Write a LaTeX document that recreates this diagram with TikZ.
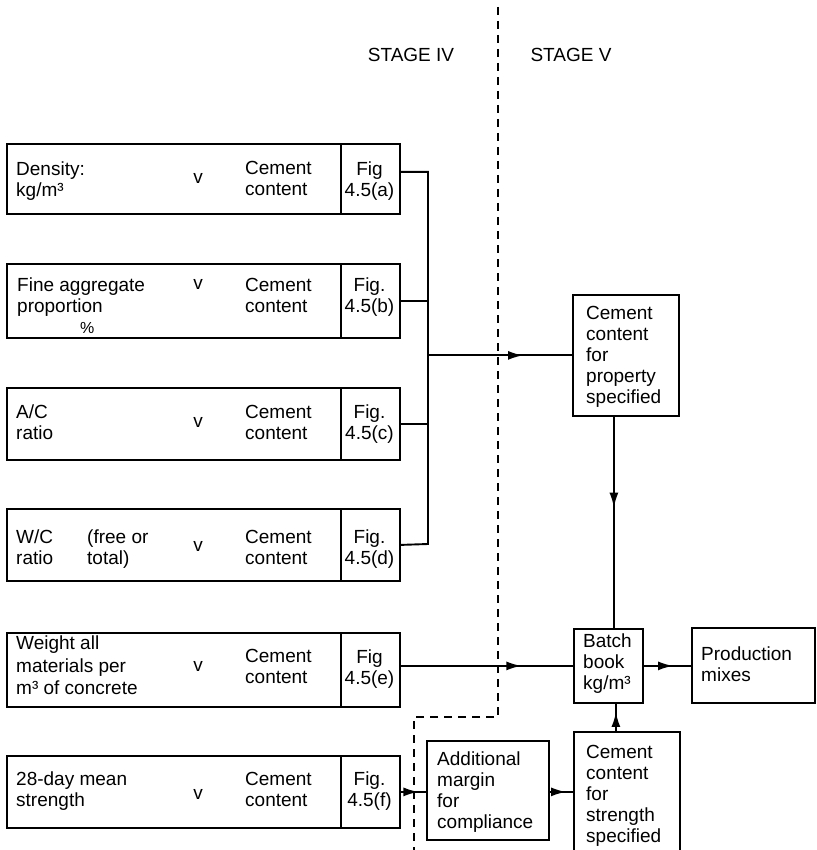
\documentclass[tikz,border=0pt]{standalone}
\usepackage{fontspec}
\setmainfont{Liberation Sans}
\usetikzlibrary{arrows.meta,decorations.markings}
\tikzset{
  box/.style={draw, line width=1.8pt, inner sep=0pt, anchor=north west},
  txt/.style={inner sep=0pt, anchor=north west, align=left, font=\fontsize{19}{21}\selectfont},
  figtxt/.style={inner sep=0pt, anchor=north, align=center, font=\fontsize{19}{21}\selectfont},
  vtxt/.style={inner sep=0pt, anchor=center, font=\fontsize{19}{21}\selectfont},
  conn/.style={line width=1.9pt},
  midarrow/.style={conn, postaction={decorate}, decoration={markings, mark=at position #1 with {\arrow{Latex[length=15pt,width=9pt]}}}},
  stagedash/.style={line width=1.3pt, dash pattern=on 8pt off 6pt},
}
\begin{document}
\begin{tikzpicture}[x=1pt,y=-1pt]
\useasboundingbox (0,0) rectangle (816,850);
\clip (0,0) rectangle (816,850);

% stage labels
\node[anchor=base, inner sep=0pt, font=\fontsize{19}{21}\selectfont] (s4) at (411,62) {STAGE IV};
\node[anchor=base, inner sep=0pt, font=\fontsize{19}{21}\selectfont] (s5) at (571,62) {STAGE V};

% stage divider
\draw[stagedash] (498,7) -- (498,717) -- (414,717) -- (414,870);

% left boxes
\node[box, minimum width=334pt, minimum height=70pt] (m1) at (6,143) {};
\node[box, minimum width=59pt,  minimum height=70pt] (f1) at (340,143) {};
\node[box, minimum width=334pt, minimum height=74pt] (m2) at (6,263) {};
\node[box, minimum width=59pt,  minimum height=74pt] (f2) at (340,263) {};
\node[box, minimum width=334pt, minimum height=72pt] (m3) at (6,387) {};
\node[box, minimum width=59pt,  minimum height=72pt] (f3) at (340,387) {};
\node[box, minimum width=334pt, minimum height=72pt] (m4) at (6,508) {};
\node[box, minimum width=59pt,  minimum height=72pt] (f4) at (340,508) {};
\node[box, minimum width=334pt, minimum height=74pt] (m5) at (6,632) {};
\node[box, minimum width=59pt,  minimum height=74pt] (f5) at (340,632) {};
\node[box, minimum width=334pt, minimum height=72pt] (m6) at (6,755) {};
\node[box, minimum width=59pt,  minimum height=72pt] (f6) at (340,755) {};

% left texts
\node[txt] (l1) at (16,162) {Density:\\kg/m³};
\node[vtxt] (v1) at (198,178) {v};
\node[txt] (c1) at (245,161) {Cement\\content};
\node[figtxt] (g1) at (369.5,162) {Fig\\4.5(a)};

\node[txt] (l2) at (17,278) {Fine aggregate\\proportion\\\hspace*{63pt}{\fontsize{16}{16}\selectfont\%}};
\node[vtxt] (v2) at (198,284) {v};
\node[txt] (c2) at (245,278) {Cement\\content};
\node[figtxt] (g2) at (369.5,278) {Fig.\\4.5(b)};

\node[txt] (l3) at (16,405) {A/C\\ratio};
\node[vtxt] (v3) at (198,422) {v};
\node[txt] (c3) at (245,405) {Cement\\content};
\node[figtxt] (g3) at (369.5,405) {Fig.\\4.5(c)};

\node[txt] (l4) at (16,530) {W/C\\ratio};
\node[txt] (l4b) at (87,530) {(free or\\total)};
\node[vtxt] (v4) at (198,546) {v};
\node[txt] (c4) at (245,530) {Cement\\content};
\node[figtxt] (g4) at (369.5,530) {Fig.\\4.5(d)};

\node[txt, font=\fontsize{19}{22.5}\selectfont] (l5) at (16,636) {Weight all\\materials per\\m³ of concrete};
\node[vtxt] (v5) at (198,666) {v};
\node[txt] (c5) at (245,649) {Cement\\content};
\node[figtxt] (g5) at (369.5,650) {Fig\\4.5(e)};

\node[txt] (l6) at (16,772) {28-day mean\\strength};
\node[vtxt] (v6) at (198,794) {v};
\node[txt] (c6) at (245,772) {Cement\\content};
\node[figtxt] (g6) at (369.5,772) {Fig.\\4.5(f)};

% right boxes
\node[box, minimum width=106pt, minimum height=121pt] (P) at (572,294) {};
\node[box, minimum width=69pt,  minimum height=74pt]  (B) at (573,628) {};
\node[box, minimum width=123pt, minimum height=75pt]  (PM) at (691,627) {};
\node[box, minimum width=122pt, minimum height=99pt]  (A) at (426,740) {};
\node[box, minimum width=106pt, minimum height=140pt] (S) at (573,731) {};

\node[txt] (tP) at (586,306) {Cement\\content\\for\\property\\specified};
\node[txt] (tB) at (583,634) {Batch\\book\\kg/m³};
\node[txt] (tPM) at (701,647) {Production\\mixes};
\node[txt] (tA) at (437,752) {Additional\\margin\\for\\compliance};
\node[txt] (tS) at (586,745) {Cement\\content\\for\\strength\\specified};

% bus from the four charts
\coordinate (bb) at (428,544);
\draw[conn] ([yshift=7pt]f1.east) -| (bb) -- (f4.east);
\draw[conn] (f2.east) -- (f2.east -| bb);
\draw[conn] (f3.east) -- (f3.east -| bb);
\draw[midarrow=0.66] (P.west -| bb) -- (P.west);

% other connectors
\draw[midarrow=0.43] ([xshift=-12pt]P.south) -- ([xshift=-12pt]P.south |- B.north);
\draw[midarrow=0.7] (B.west -| f5.east) -- (B.west);
\draw[midarrow=0.62] (B.east) -- (B.east -| PM.west);
\draw[midarrow=0.7] (f6.east) -- (f6.east -| A.west);
\draw[midarrow=0.7] (f6.east -| A.east) -- (f6.east -| S.west);
\draw[midarrow=0.7] ([xshift=-11pt]S.north) -- ([xshift=-11pt]S.north |- B.south);
\end{tikzpicture}
\end{document}
